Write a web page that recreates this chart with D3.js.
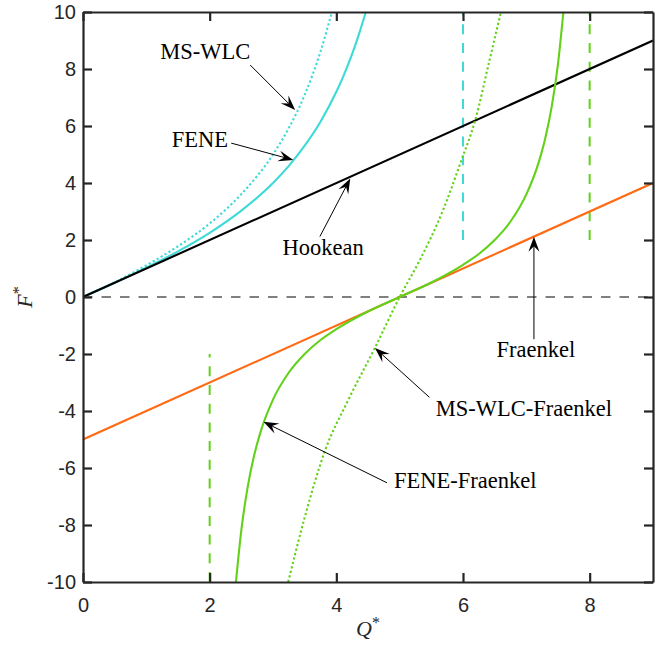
<!DOCTYPE html>
<html>
<head>
<meta charset="utf-8">
<script src="https://cdn.jsdelivr.net/npm/d3@7"></script>
<style>
body { margin: 0; background: #fff; }
</style>
</head>
<body>
<div id="chart"></div>
<script>
// spring force laws
const hookeQ = [0, 9];
const hookeF = [0, 9];
const fraenkelQ = [0, 9];
const fraenkelF = [-5, 4];
const feneQ = [0, 0.5, 1, 1.5, 2, 2.5, 3, 3.25, 3.5, 3.75, 4, 4.1, 4.25, 4.35, 4.465];
const feneF = [0, 0.50, 1.03, 1.60, 2.25, 3.03, 4.00, 4.60, 5.31, 6.15, 7.20, 7.69, 8.53, 9.17, 10];
const wlcQ = [0, 0.5, 1, 1.5, 2, 2.5, 3, 3.25, 3.5, 3.75, 3.85, 3.93];
const wlcF = [0, 0.52, 1.11, 1.78, 2.58, 3.61, 5.00, 5.93, 7.09, 8.61, 9.36, 10];
const feneFrQ = [2.415, 2.5, 2.6, 2.7, 2.8, 3, 3.25, 3.5, 3.75, 4, 4.5, 5, 5.5, 6, 6.25, 6.5, 6.75, 7, 7.2, 7.3, 7.4, 7.5, 7.585];
const feneFrF = [-10, -8.18, -6.67, -5.58, -4.76, -3.60, -2.65, -2.00, -1.51, -1.13, -0.51, 0, 0.51, 1.13, 1.51, 2.00, 2.65, 3.60, 4.76, 5.58, 6.67, 8.18, 10];
const wlcFrQ = [3.24, 3.5, 3.82, 4.18, 4.61, 5, 5.31, 5.68, 5.97, 6.19, 6.42, 6.6];
const wlcFrF = [-10, -7.74, -5.4, -3.65, -1.78, 0, 1.26, 3.02, 4.77, 6.18, 8.32, 10];

// max extension asymptotes
const asymQ = [6, 8, 2];
const asymF0 = [2, 2, -10];
const asymF1 = [10, 10, -2];

const xTicks = [0, 2, 4, 6, 8];
const yTicks = [-10, -8, -6, -4, -2, 0, 2, 4, 6, 8, 10];

// annotations (text spot, arrow tail, arrow tip) in data units
const labels = ["MS-WLC", "FENE", "Hookean", "Fraenkel", "MS-WLC-Fraenkel", "FENE-Fraenkel"];
const labelQ = [1.22, 1.40, 3.15, 6.53, 5.57, 4.91];
const labelF = [8.35, 5.26, 1.47, -2.12, -4.18, -6.71];
const tailQ = [2.64, 2.34, 3.74, 7.12, 5.47, 4.80];
const tailF = [8.14, 5.40, 2.12, -1.48, -3.52, -6.52];
const tipQ = [3.35, 3.32, 4.22, 7.12, 4.61, 2.85];
const tipF = [6.56, 4.81, 4.16, 2.11, -1.79, -4.38];

const cyan = "#3ddad8", green = "#62d11a", orange = "#ff6a13", axisCol = "#262626";

let margin = {left: 83, top: 12};
let width = 570, height = 570;

let svg = d3.select("#chart")
    .append("svg")
    .attr("width", 670)
    .attr("height", 652)
    .style("background", "#fff")
    .append("g")
    .attr("transform", `translate(${margin.left},${margin.top})`);

let x = d3.scaleLinear().domain([0, 9]).range([0, width]);
let y = d3.scaleLinear().domain([-10, 10]).range([height, 0]);

svg.append("clipPath").attr("id", "clip")
    .append("rect").attr("width", width).attr("height", height);

let plot = svg.append("g").attr("clip-path", "url(#clip)");

// zero line
plot.append("line")
    .attr("x1", x(0)).attr("x2", x(9))
    .attr("y1", y(0)).attr("y2", y(0))
    .attr("stroke", "#808080")
    .attr("stroke-width", 2)
    .attr("stroke-dasharray", "9.5,9");

let asymColors = [cyan, green, green];
plot.selectAll(".asym")
    .data(asymQ)
    .enter()
    .append("line")
    .attr("x1", d => x(d)).attr("x2", d => x(d))
    .attr("y1", (d, i) => y(asymF0[i]))
    .attr("y2", (d, i) => y(asymF1[i]))
    .attr("stroke", (d, i) => asymColors[i])
    .attr("stroke-width", 2)
    .attr("stroke-dasharray", "10,8.7");

let line = d3.line()
    .x(d => x(d[0]))
    .y(d => y(d[1]))
    .curve(d3.curveMonotoneX);

function drawCurve(qs, fs, color, dash) {
    plot.append("path")
        .datum(d3.zip(qs, fs))
        .attr("d", line)
        .attr("fill", "none")
        .attr("stroke", color)
        .attr("stroke-width", 2.1)
        .attr("stroke-dasharray", dash);
}

drawCurve(wlcQ, wlcF, cyan, "2.2,2.4");
drawCurve(feneQ, feneF, cyan, null);
drawCurve(hookeQ, hookeF, "#000", null);
drawCurve(fraenkelQ, fraenkelF, orange, null);
drawCurve(wlcFrQ, wlcFrF, green, "2.2,2.4");
drawCurve(feneFrQ, feneFrF, green, null);

// axes: box with inward ticks
function styleAxis(g) {
    g.select(".domain").attr("stroke", axisCol).attr("stroke-width", 2.2);
    g.selectAll(".tick line").attr("stroke", axisCol).attr("stroke-width", 2.2);
    g.selectAll(".tick text")
        .attr("fill", axisCol)
        .style("font-family", "'Liberation Sans', Arial, sans-serif")
        .style("font-size", "20px");
}

let fmt = d => String(d);

svg.append("g")
    .attr("transform", `translate(0,${height})`)
    .call(d3.axisBottom(x).tickValues(xTicks).tickSizeInner(-9).tickSizeOuter(0).tickPadding(16).tickFormat(fmt))
    .call(styleAxis);
svg.append("g")
    .call(d3.axisTop(x).tickValues(xTicks).tickSizeInner(-9).tickSizeOuter(0).tickFormat(""))
    .call(styleAxis);
svg.append("g")
    .call(d3.axisLeft(y).tickValues(yTicks).tickSizeInner(-9).tickSizeOuter(0).tickPadding(7).tickFormat(fmt))
    .call(styleAxis);
svg.append("g")
    .attr("transform", `translate(${width},0)`)
    .call(d3.axisRight(y).tickValues(yTicks).tickSizeInner(-9).tickSizeOuter(0).tickFormat(""))
    .call(styleAxis);

// axis titles
let qLabel = svg.append("text")
    .attr("x", width / 2)
    .attr("y", height + 54)
    .style("text-anchor", "middle")
    .style("font-family", "'Liberation Serif', 'Times New Roman', serif")
    .style("font-size", "22px")
    .attr("fill", axisCol);
qLabel.append("tspan").style("font-style", "italic").text("Q");
qLabel.append("tspan").attr("dy", -8).style("font-size", "16px").text("*");

let fLabel = svg.append("text")
    .attr("transform", `translate(${-51},${height / 2}) rotate(-90)`)
    .style("text-anchor", "middle")
    .style("font-family", "'Liberation Serif', 'Times New Roman', serif")
    .style("font-size", "22px")
    .attr("fill", axisCol);
fLabel.append("tspan").style("font-style", "italic").text("F");
fLabel.append("tspan").attr("dy", -8).style("font-size", "16px").text("*");

// annotation arrows
let notes = svg.append("g");
labels.forEach(function(txt, i) {
    let x0 = x(tailQ[i]), y0 = y(tailF[i]);
    let x1 = x(tipQ[i]), y1 = y(tipF[i]);
    let len = Math.hypot(x1 - x0, y1 - y0);
    let ux = (x1 - x0) / len, uy = (y1 - y0) / len;
    let nx = -uy, ny = ux;
    let L = 15, W = 11;
    notes.append("line")
        .attr("x1", x0).attr("y1", y0)
        .attr("x2", x1 - ux * L * 0.6).attr("y2", y1 - uy * L * 0.6)
        .attr("stroke", "#000")
        .attr("stroke-width", 1);
    let head = [
        [x1, y1],
        [x1 - ux * L + nx * W / 2, y1 - uy * L + ny * W / 2],
        [x1 - ux * L * 0.62, y1 - uy * L * 0.62],
        [x1 - ux * L - nx * W / 2, y1 - uy * L - ny * W / 2]
    ];
    notes.append("path")
        .attr("d", "M" + head.join("L") + "Z")
        .attr("fill", "#000");
    notes.append("text")
        .attr("x", x(labelQ[i]))
        .attr("y", y(labelF[i]))
        .style("font-family", "'Liberation Serif', 'Times New Roman', serif")
        .style("font-size", "22.5px")
        .attr("fill", "#000")
        .text(txt);
});
</script>
</body>
</html>
